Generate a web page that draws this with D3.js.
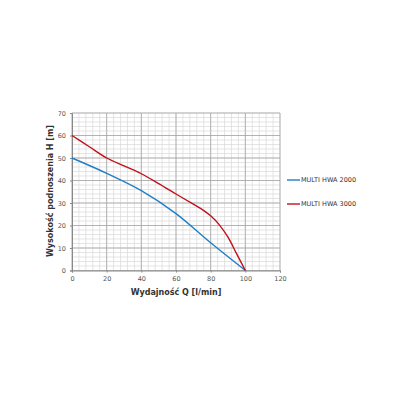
<!DOCTYPE html>
<html>
<head>
<meta charset="utf-8">
<script src="https://cdn.jsdelivr.net/npm/d3@7"></script>
<style>
  body { margin: 0; background: #fff; }
  text { font-family: "DejaVu Sans", sans-serif; }
</style>
</head>
<body>
<script>
// data
var seriesNames = ['MULTI HWA 2000', 'MULTI HWA 3000']
var seriesColors = ['#1f7fc6', '#c0101a']
var qHwa2000 = [0, 20, 40, 60, 80, 100]
var hHwa2000 = [50, 43.2, 35.5, 25.3, 12.3, 0]
var qHwa3000 = [0, 10, 20, 30, 40, 50, 60, 70, 75, 80, 85, 90, 95, 100]
var hHwa3000 = [60, 55, 50, 46.5, 43, 38.6, 34, 29.5, 27.2, 24.3, 20.3, 14.8, 7.4, 0]
var xTicks = [0, 20, 40, 60, 80, 100, 120]
var yTicks = [0, 10, 20, 30, 40, 50, 60, 70]

var margin = { top: 113, left: 72, right: 120, bottom: 130 },
    width = 400 - margin.left - margin.right,
    height = 400 - margin.top - margin.bottom

var svg = d3.select('body').append('svg')
    .attr('width', 400)
    .attr('height', 400)

var g = svg.append('g')
    .attr('transform', 'translate(' + margin.left + ',' + margin.top + ')')

var x = d3.scaleLinear().domain([0, 120]).range([0, 208])
var y = d3.scaleLinear().domain([0, 70]).range([157.5, 0])

// minor grid
g.append('g').selectAll('line')
    .data(d3.range(0, 121, 4))
    .enter().append('line')
    .attr('x1', function (d) { return x(d) }).attr('x2', function (d) { return x(d) })
    .attr('y1', y(0)).attr('y2', y(70))
    .attr('stroke', '#d9d9d9').attr('stroke-width', 0.7)
g.append('g').selectAll('line')
    .data(d3.range(0, 71, 2))
    .enter().append('line')
    .attr('y1', function (d) { return y(d) }).attr('y2', function (d) { return y(d) })
    .attr('x1', x(0)).attr('x2', x(120))
    .attr('stroke', '#d9d9d9').attr('stroke-width', 0.7)

// major grid
g.append('g').selectAll('line')
    .data(xTicks)
    .enter().append('line')
    .attr('x1', function (d) { return x(d) }).attr('x2', function (d) { return x(d) })
    .attr('y1', y(0)).attr('y2', y(70))
    .attr('stroke', '#a6a6a6').attr('stroke-width', 0.8)
g.append('g').selectAll('line')
    .data(yTicks)
    .enter().append('line')
    .attr('y1', function (d) { return y(d) }).attr('y2', function (d) { return y(d) })
    .attr('x1', x(0)).attr('x2', x(120))
    .attr('stroke', '#a6a6a6').attr('stroke-width', 0.8)

// axes
var xAxis = g.append('g')
    .attr('transform', 'translate(0,' + y(0) + ')')
    .call(d3.axisBottom(x).tickValues(xTicks).tickSize(2).tickPadding(4))
var yAxis = g.append('g')
    .call(d3.axisLeft(y).tickValues(yTicks).tickSize(2).tickPadding(4))
;[xAxis, yAxis].forEach(function (a) {
    a.selectAll('.domain').attr('stroke', '#888')
    a.selectAll('.tick line').attr('stroke', '#888')
    a.selectAll('text').attr('fill', '#555').style('font-size', '6.5px')
        .style('font-family', '"DejaVu Sans", sans-serif')
})

// curves
var line = d3.line()
    .x(function (d) { return x(d[0]) })
    .y(function (d) { return y(d[1]) })
    .curve(d3.curveCatmullRom)

var series = [d3.zip(qHwa2000, hHwa2000), d3.zip(qHwa3000, hHwa3000)]
g.selectAll('path.curve')
    .data(series)
    .enter().append('path')
    .attr('class', 'curve')
    .attr('d', line)
    .attr('fill', 'none')
    .attr('stroke', function (d, i) { return seriesColors[i] })
    .attr('stroke-width', 1.4)

// axis titles
svg.append('text')
    .attr('x', 176).attr('y', 295)
    .attr('text-anchor', 'middle')
    .attr('fill', '#333')
    .style('font-size', '8px').style('font-weight', 'bold')
    .text('Wydajność Q [l/min]')
svg.append('text')
    .attr('transform', 'translate(53,191) rotate(-90)')
    .attr('text-anchor', 'middle')
    .attr('fill', '#333')
    .style('font-size', '8px').style('font-weight', 'bold')
    .text('Wysokość podnoszenia H [m]')

// legend
var legend = svg.append('g').selectAll('g')
    .data(seriesNames)
    .enter().append('g')
    .attr('transform', function (d, i) { return 'translate(287,' + (180 + i * 24) + ')' })
legend.append('line')
    .attr('x1', 0).attr('x2', 13)
    .attr('stroke', function (d, i) { return seriesColors[i] })
    .attr('stroke-width', 1.4)
legend.append('text')
    .attr('x', 14).attr('dy', '0.35em')
    .attr('fill', '#333')
    .style('font-size', '6.5px')
    .text(function (d) { return d })
</script>
</body>
</html>
